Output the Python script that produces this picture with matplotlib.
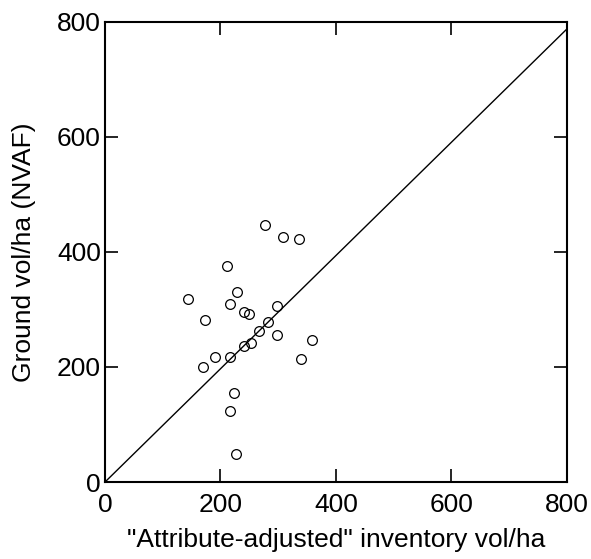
import matplotlib
matplotlib.use("Agg")
import matplotlib.pyplot as plt

# inventory (x) vs ground (y) volume per ha
inv_vol = [277, 308, 336, 211, 229, 144, 216, 298, 241, 250, 173, 283,
           267, 298, 358, 253, 240, 191, 216, 340, 170, 224, 216, 227]
ground_vol = [446, 425, 422, 376, 331, 318, 310, 306, 295, 292, 282, 278,
              262, 256, 246, 241, 236, 217, 217, 213, 200, 154, 124, 48]

line_x = [0, 800]
line_y = [0, 787]

ticks = [0, 200, 400, 600, 800]

plt.rcParams.update({
    "font.family": ["Liberation Sans", "DejaVu Sans"],
})

fig = plt.figure(figsize=(5.91, 5.59), dpi=100)
ax = fig.add_axes([0.1777, 0.1377, 0.7812, 0.8235])

ax.plot(line_x, line_y, color="black", lw=1.0)
ax.plot(inv_vol, ground_vol, linestyle="none", marker="o", markersize=7,
        markerfacecolor="none", markeredgecolor="black", markeredgewidth=0.9)

ax.set_xlim(0, 800)
ax.set_ylim(0, 800)
ax.set_xticks(ticks)
ax.set_yticks(ticks)
ax.tick_params(direction="in", length=9.5, width=1.2, labelsize=19,
               top=True, right=True)
ax.tick_params(axis="x", pad=8)
ax.tick_params(axis="y", pad=3)
for s in ax.spines.values():
    s.set_linewidth(1.5)

ax.set_xlabel('"Attribute-adjusted" inventory vol/ha', fontsize=19, labelpad=8)
ax.set_ylabel("Ground vol/ha (NVAF)", fontsize=19, labelpad=15)

fig.savefig("out.png", dpi=100)
